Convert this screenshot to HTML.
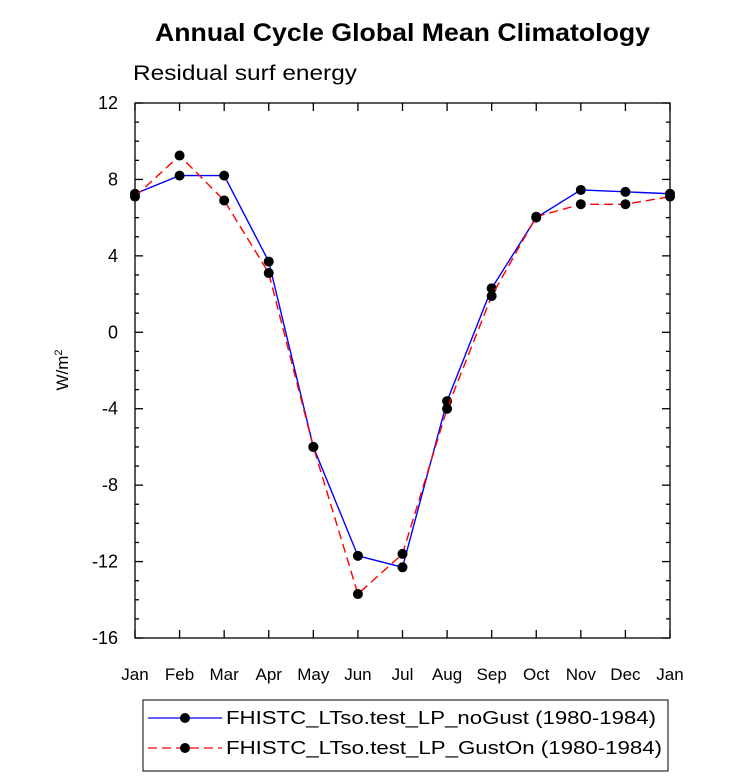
<!DOCTYPE html>
<html><head><meta charset="utf-8"><style>
body{margin:0;background:#fff}
svg{display:block;font-family:"Liberation Sans",Helvetica,Arial,sans-serif}
</style></head><body>
<svg id="chart" width="732" height="777">
<text x="155" y="41" font-size="25" font-weight="bold" textLength="495" lengthAdjust="spacingAndGlyphs">Annual Cycle Global Mean Climatology</text>
<text x="133" y="80" font-size="21" textLength="224" lengthAdjust="spacingAndGlyphs">Residual surf energy</text>
<text transform="translate(68,370) rotate(-90)" text-anchor="middle" font-size="17">W/m<tspan dy="-6" font-size="11">2</tspan></text>
<rect x="135" y="103" width="535" height="535" fill="none" stroke="#000" stroke-width="1.3"/>
<g id="ticks"></g><g id="series"></g>
<g>
<rect x="143" y="700" width="525" height="71" fill="#fff" stroke="#000" stroke-width="1"/>
<line x1="148" y1="718" x2="222" y2="718" stroke="#0000ff" stroke-width="1.3"/>
<circle cx="185" cy="718" r="5" fill="#000"/>
<text x="226" y="724" font-size="18" textLength="430" lengthAdjust="spacingAndGlyphs">FHISTC_LTso.test_LP_noGust (1980-1984)</text>
<line x1="148" y1="748" x2="222" y2="748" stroke="#ff0000" stroke-width="1.3" stroke-dasharray="9,5"/>
<circle cx="185" cy="748" r="5" fill="#000"/>
<text x="226" y="754" font-size="18" textLength="436" lengthAdjust="spacingAndGlyphs">FHISTC_LTso.test_LP_GustOn (1980-1984)</text>
</g>
</svg>
<script>
const months=["Jan","Feb","Mar","Apr","May","Jun","Jul","Aug","Sep","Oct","Nov","Dec","Jan"];
const noGust=[7.25,8.2,8.2,3.7,-6.0,-11.7,-12.3,-3.6,2.3,6.0,7.45,7.35,7.25];
const gustOn=[7.1,9.25,6.9,3.1,-6.0,-13.7,-11.6,-4.0,1.9,6.05,6.7,6.7,7.1];
const yTicks=[12,8,4,0,-4,-8,-12,-16];
const NS="http://www.w3.org/2000/svg";
const X0=135,X1=670,Y0=103,Y1=638,YMAX=12,YMIN=-16;
const xs=i=>X0+i*(X1-X0)/(months.length-1);
const ys=v=>Y0+(YMAX-v)*(Y1-Y0)/(YMAX-YMIN);
function mk(t,a,p){const e=document.createElementNS(NS,t);for(const k in a)e.setAttribute(k,a[k]);p.appendChild(e);return e;}
const tg=document.getElementById('ticks');
for(let v=YMIN;v<=YMAX;v++){const y=ys(v);const L=(v%4===0)?8:4;
mk('line',{x1:X0,y1:y,x2:X0+L,y2:y,stroke:'#000','stroke-width':1.3},tg);
mk('line',{x1:X1,y1:y,x2:X1-L,y2:y,stroke:'#000','stroke-width':1.3},tg);}
yTicks.forEach(v=>{const t=mk('text',{x:118,y:ys(v)+6,'text-anchor':'end','font-size':18},tg);t.textContent=v;

});
months.forEach((m,i)=>{const x=xs(i);
mk('line',{x1:x,y1:Y1,x2:x,y2:Y1-8,stroke:'#000','stroke-width':1.3},tg);
mk('line',{x1:x,y1:Y0,x2:x,y2:Y0+8,stroke:'#000','stroke-width':1.3},tg);
const t=mk('text',{x:x,y:Y1+42,'text-anchor':'middle','font-size':17},tg);t.textContent=m;

});
const sg=document.getElementById('series');
function draw(vals,color,dash,name){
const pts=vals.map((v,i)=>xs(i)+','+ys(v)).join(' ');
const pl=mk('polyline',{points:pts,fill:'none',stroke:color,'stroke-width':1.4,'stroke-dasharray':dash},sg);


vals.forEach((v,i)=>{const c=mk('circle',{cx:xs(i),cy:ys(v),r:5,fill:'#000'},sg);

});}
draw(noGust,'#0000ff','none','nogust');
draw(gustOn,'#ff0000','9,5','guston');
</script>
</body></html>
